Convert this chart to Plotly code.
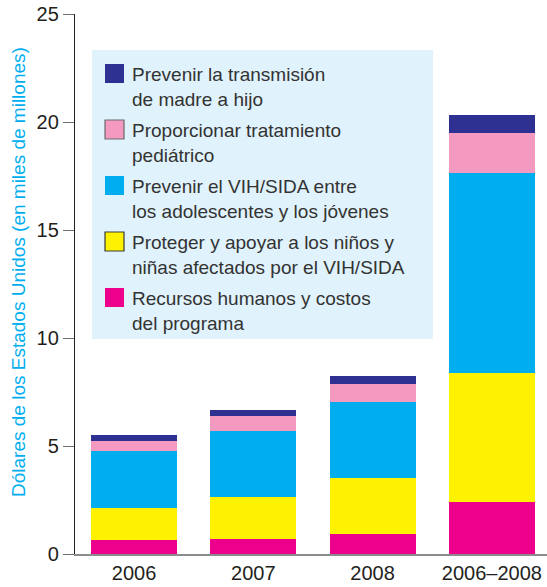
import plotly.graph_objects as go

# data (thousands of millions of US$)
years = ["2006", "2007", "2008", "2006–2008"]
recursos = [0.66, 0.71, 0.94, 2.39]
proteger = [1.48, 1.94, 2.59, 6.00]
prevenir_jovenes = [2.64, 3.06, 3.52, 9.26]
tratamiento = [0.46, 0.69, 0.83, 1.86]
madre_hijo = [0.25, 0.28, 0.37, 0.83]

y_ticks = [0, 5, 10, 15, 20, 25]

series = [
    ("Recursos humanos y costos<br>del programa", recursos, "#EC008C", None),
    ("Proteger y apoyar a los niños y<br>niñas afectados por el VIH/SIDA", proteger, "#FFF200", "#3a3a3a"),
    ("Prevenir el VIH/SIDA entre<br>los adolescentes y los jóvenes", prevenir_jovenes, "#00AEEF", None),
    ("Proporcionar tratamiento<br>pediátrico", tratamiento, "#F49AC1", "#6a6a6a"),
    ("Prevenir la transmisión<br>de madre a hijo", madre_hijo, "#2E3192", None),
]

W, H = 547, 587
L, R, T, B = 75, 0, 14, 33
FONT = "Liberation Sans, Arial, sans-serif"
TXT = "#231F20"


def px_x(p):
    return (p - L) / (W - L - R)


def px_y(p):
    return (H - B - p) / (H - T - B)


fig = go.Figure()
for name, vals, col, _ in series:
    fig.add_trace(go.Bar(x=years, y=vals, name=name, marker_color=col,
                         marker_line_width=0, width=0.72, showlegend=False))

# legend panel drawn by hand (big swatches, two-line labels)
shapes = [dict(type="rect", xref="paper", yref="paper", layer="below",
               x0=px_x(92), x1=px_x(433), y0=px_y(339), y1=px_y(50),
               fillcolor="#E0F2FB", line_width=0)]
annotations = []
for i, (name, vals, col, edge) in enumerate(reversed(series)):
    top = 64 + 56 * i
    shapes.append(dict(type="rect", xref="paper", yref="paper",
                       x0=px_x(105), x1=px_x(124), y0=px_y(top + 19), y1=px_y(top),
                       fillcolor=col, line=dict(color=edge or col, width=1.2 if edge else 0)))
    annotations.append(dict(xref="paper", yref="paper", x=px_x(130), y=px_y(top + 23),
                            xanchor="left", yanchor="middle", align="left", showarrow=False,
                            text=name, font=dict(family=FONT, size=19, color="#333333")))

# y axis title placed as rotated annotation
annotations.append(dict(xref="paper", yref="paper", x=px_x(18), y=px_y(272),
                        xanchor="center", yanchor="middle", textangle=-90, showarrow=False,
                        text="Dólares de los Estados Unidos (en miles de millones)",
                        font=dict(family=FONT, size=19, color="#00AEEF")))

fig.update_layout(
    width=W, height=H,
    margin=dict(l=L, r=R, t=T, b=B),
    plot_bgcolor="white", paper_bgcolor="white",
    barmode="stack",
    shapes=shapes, annotations=annotations,
    font=dict(family=FONT, color=TXT),
)
fig.update_xaxes(range=[-0.495, 3.462], showline=True, linecolor="#8c8c8c", linewidth=1.5,
                 ticks="", tickfont=dict(size=20, color=TXT), showgrid=False)
fig.update_yaxes(range=[0, 25], tickvals=y_ticks, showline=True, linecolor=TXT, linewidth=1.3,
                 ticks="outside", ticklen=11, tickcolor="#6f6f6f", tickwidth=1.3,
                 tickfont=dict(size=20, color=TXT), showgrid=False, zeroline=False)

fig.write_html("out.html", config={"displayModeBar": False},
               post_script="document.body.style.margin='0';")
